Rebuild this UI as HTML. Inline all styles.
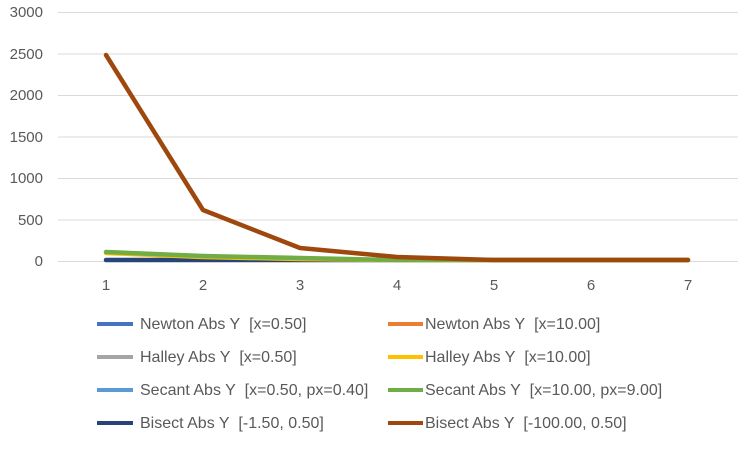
<!DOCTYPE html>
<html><head><style>
body{margin:0;background:#fff;}
svg text{font-family:"Liberation Sans",Arial,sans-serif;fill:#595959;}
</style></head><body>
<svg width="741" height="445" xmlns="http://www.w3.org/2000/svg">
<g stroke="#d9d9d9" stroke-width="1">
<line x1="58" x2="738" y1="12.5" y2="12.5"/>
<line x1="58" x2="738" y1="54" y2="54"/>
<line x1="58" x2="738" y1="95.5" y2="95.5"/>
<line x1="58" x2="738" y1="137" y2="137"/>
<line x1="58" x2="738" y1="178.5" y2="178.5"/>
<line x1="58" x2="738" y1="220" y2="220"/>
<line x1="58" x2="738" y1="261.5" y2="261.5"/>
</g>
<g font-size="15" text-anchor="end">
<text x="43" y="17">3000</text>
<text x="43" y="59">2500</text>
<text x="43" y="100">2000</text>
<text x="43" y="142">1500</text>
<text x="43" y="183">1000</text>
<text x="43" y="225">500</text>
<text x="43" y="266">0</text>
</g>
<g font-size="15" text-anchor="middle">
<text x="106" y="290">1</text><text x="203" y="290">2</text><text x="300" y="290">3</text>
<text x="397" y="290">4</text><text x="494" y="290">5</text><text x="591" y="290">6</text><text x="688" y="290">7</text>
</g>
<g fill="none" stroke-width="4.5" stroke-linejoin="round" stroke-linecap="round">
<polyline stroke="#264478" points="106,260 203,260 300,260 397,260 494,260 591,260 688,260"/>
<polyline stroke="#ffc000" points="106,253 203,257 300,259 397,260 494,260 591,260 688,260"/>
<polyline stroke="#70ad47" points="106,252 203,256 300,258 397,260 494,260 591,260 688,260"/>
<polyline stroke="#9e480e" points="106,55 203,210 300,248 397,257 494,260 591,260 688,260"/>
</g>
<g stroke-width="4">
<line x1="97" x2="133" y1="324" y2="324" stroke="#4472c4"/>
<line x1="388" x2="423" y1="324" y2="324" stroke="#ed7d31"/>
<line x1="97" x2="133" y1="357" y2="357" stroke="#a5a5a5"/>
<line x1="388" x2="423" y1="357" y2="357" stroke="#ffc000"/>
<line x1="97" x2="133" y1="390" y2="390" stroke="#5b9bd5"/>
<line x1="388" x2="423" y1="390" y2="390" stroke="#70ad47"/>
<line x1="97" x2="133" y1="423" y2="423" stroke="#264478"/>
<line x1="388" x2="423" y1="423" y2="423" stroke="#9e480e"/>
</g>
<g font-size="16">
<text x="140" y="329">Newton Abs Y&#160; [x=0.50]</text>
<text x="425" y="329">Newton Abs Y&#160; [x=10.00]</text>
<text x="140" y="362">Halley Abs Y&#160; [x=0.50]</text>
<text x="425" y="362">Halley Abs Y&#160; [x=10.00]</text>
<text x="140" y="395">Secant Abs Y&#160; [x=0.50, px=0.40]</text>
<text x="425" y="395">Secant Abs Y&#160; [x=10.00, px=9.00]</text>
<text x="140" y="428">Bisect Abs Y&#160; [-1.50, 0.50]</text>
<text x="425" y="428">Bisect Abs Y&#160; [-100.00, 0.50]</text>
</g>
</svg>
</body></html>
